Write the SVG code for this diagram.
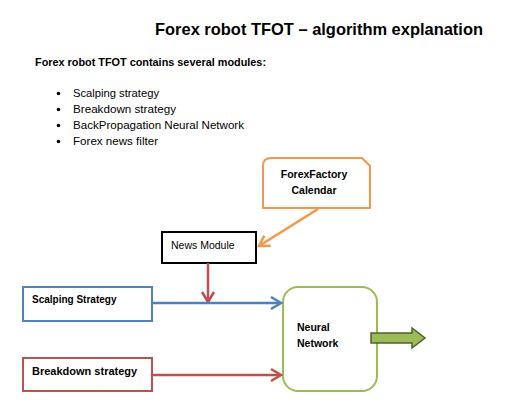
<svg xmlns="http://www.w3.org/2000/svg" width="512" height="408" viewBox="0 0 512 408">
<defs>
<style>
text{font-family:"Liberation Sans",Arial,sans-serif;fill:#000}
.b{font-weight:bold}
.box{fill:#fff;stroke-width:2}
.conn{fill:none;stroke-width:2.5}
</style>
<marker id="mBlue" markerUnits="userSpaceOnUse" markerWidth="14" markerHeight="16" refX="11" refY="7" orient="auto" viewBox="0 0 14 14"><path d="M1,1 L11,7 L1,13" fill="none" stroke="#4f81bd" stroke-width="2.5"/></marker>
<marker id="mRed" markerUnits="userSpaceOnUse" markerWidth="14" markerHeight="16" refX="11" refY="7" orient="auto" viewBox="0 0 14 14"><path d="M1,1 L11,7 L1,13" fill="none" stroke="#c0504d" stroke-width="2.5"/></marker>
<marker id="mOrange" markerUnits="userSpaceOnUse" markerWidth="14" markerHeight="16" refX="11" refY="7" orient="auto" viewBox="0 0 14 14"><path d="M1,1 L11,7 L1,13" fill="none" stroke="#f79646" stroke-width="2.5"/></marker>
</defs>
<rect width="512" height="408" fill="#fff"/>
<text class="b" x="155" y="35" font-size="17" textLength="328" lengthAdjust="spacingAndGlyphs">Forex robot TFOT – algorithm explanation</text>
<text class="b" x="35" y="66" font-size="11" textLength="231" lengthAdjust="spacingAndGlyphs">Forex robot TFOT contains several modules:</text>
<g font-size="11">
<circle cx="58.5" cy="93.5" r="1.8"/><text x="73" y="97" textLength="86" lengthAdjust="spacingAndGlyphs">Scalping strategy</text>
<circle cx="58.5" cy="109.5" r="1.8"/><text x="73" y="113" textLength="103" lengthAdjust="spacingAndGlyphs">Breakdown strategy</text>
<circle cx="58.5" cy="125.5" r="1.8"/><text x="73" y="129" textLength="171" lengthAdjust="spacingAndGlyphs">BackPropagation Neural Network</text>
<circle cx="58.5" cy="141.5" r="1.8"/><text x="73" y="145" textLength="85" lengthAdjust="spacingAndGlyphs">Forex news filter</text>
</g>
<g id="forexfactory">
<path class="box" stroke="#f79646" d="M271,158 H362 L370,166 V208 H263 V166 Q263,158 271,158 Z"/>
<text class="b" x="314" y="178" font-size="10.5" text-anchor="middle">ForexFactory</text>
<text class="b" x="314" y="194" font-size="10.5" text-anchor="middle">Calendar</text>
</g>
<g id="news">
<rect class="box" x="162" y="232" width="94" height="31" stroke="#000" stroke-width="2.5"/>
<text x="171" y="249" font-size="10.5">News Module</text>
</g>
<g id="scalping">
<rect class="box" x="23" y="287" width="129" height="34" stroke="#4f81bd"/>
<text class="b" x="32" y="303" font-size="10">Scalping Strategy</text>
</g>
<g id="breakdown">
<rect class="box" x="23" y="358" width="129" height="33" stroke="#c0504d"/>
<text class="b" x="32" y="375" font-size="11">Breakdown strategy</text>
</g>
<g id="neural">
<rect class="box" x="283" y="287" width="94" height="104" rx="15" stroke="#9bbb59"/>
<text class="b" x="297" y="331" font-size="10.5">Neural</text>
<text class="b" x="297" y="347" font-size="10.5">Network</text>
</g>
<g id="connectors">
<line class="conn" stroke="#f79646" x1="318" y1="209" x2="259" y2="246" marker-end="url(#mOrange)"/>
<line class="conn" stroke="#c0504d" x1="208" y1="263" x2="208" y2="302" marker-end="url(#mRed)"/>
<line class="conn" stroke="#4f81bd" x1="152" y1="303" x2="281" y2="303" marker-end="url(#mBlue)"/>
<line class="conn" stroke="#c0504d" x1="152" y1="375" x2="281" y2="375" marker-end="url(#mRed)"/>
<path d="M371,333 H412 V328 L425,338 L412,348 V343 H371 Z" fill="#9bbb59" stroke="#4f6228" stroke-width="1.5"/>
</g>
</svg>
